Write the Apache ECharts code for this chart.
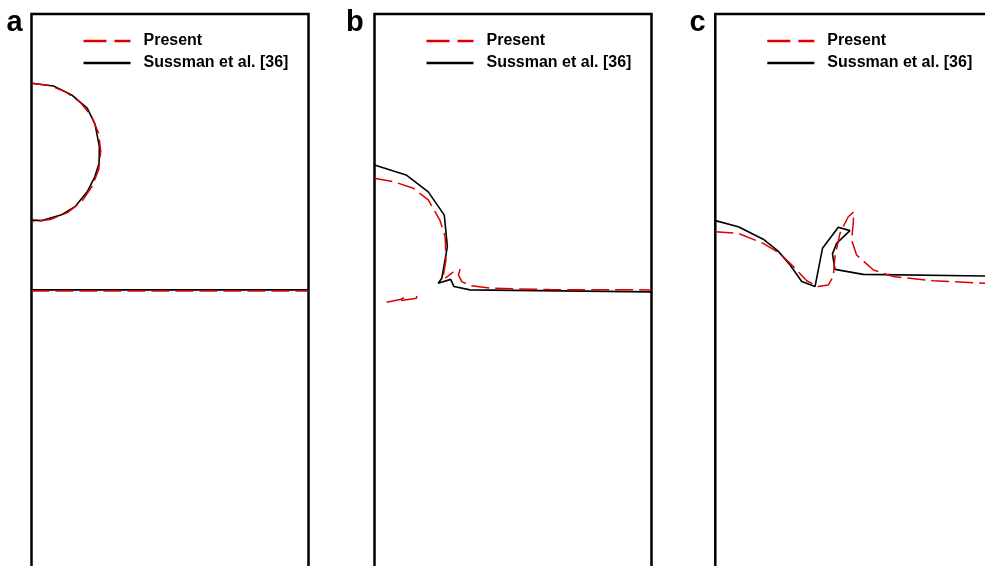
<!DOCTYPE html>
<html>
<head>
<meta charset="utf-8">
<script src="https://cdn.jsdelivr.net/npm/echarts@6/dist/echarts.min.js"></script>
<style>
  html, body { margin: 0; padding: 0; background: #fff; }
  #chart { width: 985px; height: 566px; }
</style>
</head>
<body>
<div id="chart"></div>
<script>
// Interface shapes (x in [0,1], y in [0,2]).
const panelNames = ['a', 'b', 'c'];
const legendNames = ['Present', 'Sussman et al. [36]'];

// (a) initial bubble and free surface
const aSussmanBubble = [
  [0.000, 1.750], [0.079, 1.740], [0.145, 1.708], [0.201, 1.660], [0.229, 1.603],
  [0.245, 1.521], [0.244, 1.461], [0.229, 1.413], [0.201, 1.358], [0.157, 1.304],
  [0.106, 1.274], [0.037, 1.254], [0.000, 1.256]
];
const aPresentBubble = [
  [0.000, 1.750], [0.065, 1.742], [0.125, 1.718], [0.177, 1.680], [0.217, 1.630],
  [0.242, 1.570], [0.250, 1.505], [0.243, 1.440], [0.220, 1.380], [0.183, 1.325],
  [0.130, 1.283], [0.068, 1.258], [0.000, 1.250]
];
const aSussmanSurface = [[0, 1.004], [1, 1.004]];
const aPresentSurface = [[0, 1.000], [1, 1.000]];

// (b) bubble touching the surface
const bSussman = [
  [0.000, 1.455], [0.114, 1.419], [0.194, 1.358], [0.252, 1.274], [0.263, 1.160],
  [0.243, 1.046], [0.230, 1.028], [0.275, 1.042], [0.287, 1.016], [0.345, 1.004],
  [1.000, 0.997]
];
const bPresentBubble = [
  [0.000, 1.407], [0.068, 1.395], [0.140, 1.371], [0.194, 1.329], [0.236, 1.256],
  [0.255, 1.196], [0.258, 1.112], [0.248, 1.052], [0.251, 1.043], [0.285, 1.069]
];
const bPresentSurface = [
  [0.309, 1.079], [0.303, 1.058], [0.315, 1.034], [0.345, 1.020], [0.423, 1.010],
  [0.634, 1.005], [1.000, 1.004]
];
const bPresentDrop = [
  [0.044, 0.959], [0.092, 0.969], [0.110, 0.977], [0.096, 0.966], [0.152, 0.974],
  [0.152, 0.982]
];

// (c) after the bubble bursts
const cSussman = [
  [0.000, 1.254], [0.083, 1.232], [0.173, 1.187], [0.227, 1.144], [0.270, 1.094],
  [0.312, 1.034], [0.360, 1.016], [0.387, 1.154], [0.444, 1.230], [0.486, 1.218],
  [0.438, 1.172], [0.423, 1.134], [0.432, 1.078], [0.534, 1.060], [0.973, 1.054],
  [1.000, 1.053]
];
const cPresent = [
  [0.000, 1.214], [0.083, 1.208], [0.173, 1.172], [0.233, 1.136], [0.282, 1.088],
  [0.330, 1.037], [0.372, 1.016], [0.408, 1.022], [0.426, 1.052], [0.432, 1.124],
  [0.450, 1.208], [0.480, 1.268], [0.500, 1.286], [0.498, 1.244], [0.492, 1.184],
  [0.510, 1.130], [0.571, 1.076], [0.643, 1.052], [0.787, 1.037], [0.973, 1.028],
  [1.000, 1.027]
];

const panelLefts = [31.5, 374.5, 715.3];
const labelLefts = [6.5, 346, 689.5];
const panelWidth = 277;
const RED = '#dd0000';
const DASH = [18, 6];
const Y_MIN = -0.05;   // domain bottom sits just below the window

// legend keys as filled bars in a 47x14 box (corner dots keep the box size)
const KEY_DASHED = 'path://M0,0h0.01v0.01h-0.01zM0,5.75h23v2.5h-23zM31,5.75h16v2.5h-16zM46.99,13.99h0.01v0.01h-0.01z';
const KEY_SOLID = 'path://M0,0h0.01v0.01h-0.01zM0,5.75h47v2.5h-47zM46.99,13.99h0.01v0.01h-0.01z';

const curves = [
  { panel: 0, name: 'Present', data: aPresentBubble },
  { panel: 0, name: 'Present', data: aPresentSurface },
  { panel: 0, name: 'Sussman et al. [36]', data: aSussmanBubble },
  { panel: 0, name: 'Sussman et al. [36]', data: aSussmanSurface },
  { panel: 1, name: 'Present', data: bPresentBubble },
  { panel: 1, name: 'Present', data: bPresentSurface },
  { panel: 1, name: 'Present', data: bPresentDrop },
  { panel: 1, name: 'Sussman et al. [36]', data: bSussman },
  { panel: 2, name: 'Present', data: cPresent },
  { panel: 2, name: 'Sussman et al. [36]', data: cSussman }
];

const chart = echarts.init(document.getElementById('chart'), null, { renderer: 'canvas' });

const option = {
  animation: false,
  backgroundColor: '#ffffff',
  textStyle: { fontFamily: 'Liberation Sans' },
  title: panelNames.map((t, i) => ({
    text: t,
    left: labelLefts[i],
    top: 8,
    padding: 0,
    textStyle: { fontSize: 29, fontWeight: 'bold', color: '#000', fontFamily: 'Liberation Sans' }
  })),
  legend: panelLefts.map((l) => ({
    orient: 'vertical',
    left: l + 52,
    top: 33,
    padding: 0,
    itemWidth: 47,
    itemHeight: 14,
    itemGap: 6,
    selectedMode: false,
    textStyle: {
      fontSize: 16, fontWeight: 'bold', color: '#000',
      fontFamily: 'Liberation Sans', padding: [0, 0, 0, 8]
    },
    data: [
      { name: legendNames[0], icon: KEY_DASHED },
      { name: legendNames[1], icon: KEY_SOLID }
    ]
  })),
  grid: panelLefts.map((l) => ({
    left: l,
    width: panelWidth,
    top: 14,
    height: (2 - Y_MIN) * panelWidth,
    outerBoundsMode: 'none',
    show: true,
    borderColor: '#000',
    borderWidth: 2.5,
    backgroundColor: 'transparent'
  })),
  xAxis: panelLefts.map((_, i) => ({
    type: 'value', gridIndex: i, min: 0, max: 1, show: false
  })),
  yAxis: panelLefts.map((_, i) => ({
    type: 'value', gridIndex: i, min: Y_MIN, max: 2, show: false
  })),
  series: curves.map((c) => {
    const isPresent = c.name === 'Present';
    return {
      type: 'line',
      name: c.name,
      xAxisIndex: c.panel,
      yAxisIndex: c.panel,
      data: c.data,
      symbol: 'none',
      silent: true,
      z: isPresent ? 3 : 2,
      color: isPresent ? RED : '#000',
      lineStyle: {
        color: isPresent ? RED : '#000',
        width: isPresent ? 1.5 : 1.6,
        type: isPresent ? DASH : 'solid'
      }
    };
  })
};

chart.setOption(option);
</script>
</body>
</html>
